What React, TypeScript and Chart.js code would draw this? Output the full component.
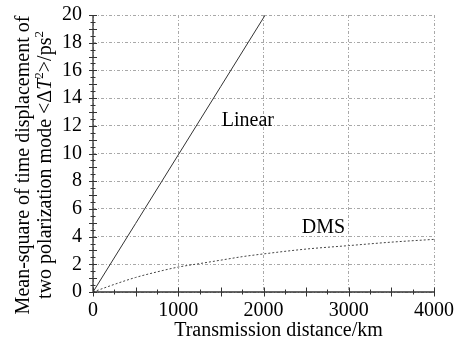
import React, { useEffect, useRef } from "react";
import { Chart, registerables } from "chart.js";

Chart.register(...registerables);

const linearKm = [0, 500, 1000, 1500, 2000, 2020];
const linearVal = [0, 4.95, 9.9, 14.85, 19.8, 20];
const dmsKm = [0, 250, 500, 750, 1000, 1250, 1500, 1750, 2000, 2500, 3000, 3500, 4000];
const dmsVal = [0, 0.55, 1.05, 1.45, 1.8, 2.05, 2.3, 2.55, 2.75, 3.1, 3.35, 3.6, 3.8];
const seriesLabels = ["Linear", "DMS"];
const labelPos = [
  { x: 1510, y: 12 },
  { x: 2450, y: 4.24 },
];
const xTitle = "Transmission distance/km";
const yTitle1 = "Mean-square of time displacement of";

const FONT = "'Liberation Serif', 'DejaVu Serif', serif";

const decorPlugin = {
  id: "decor",
  afterDatasetsDraw(chart: any) {
    const ctx = chart.ctx;
    const xs = chart.scales.x;
    const ys = chart.scales.y;
    const x0 = xs.getPixelForValue(0);
    const y0 = ys.getPixelForValue(0);
    ctx.save();
    ctx.strokeStyle = "#333";
    ctx.lineWidth = 1.3;
    ctx.beginPath();
    ctx.moveTo(x0, ys.getPixelForValue(20));
    ctx.lineTo(x0, y0);
    ctx.lineTo(xs.getPixelForValue(4000), y0);
    ctx.stroke();
    ctx.lineWidth = 1;
    for (let v = 0; v <= 20.001; v += 0.5) {
      const py = Math.round(ys.getPixelForValue(v)) + 0.5;
      const L = Math.abs(v - Math.round(v)) < 0.01 ? 4 : 2.5;
      ctx.beginPath();
      ctx.moveTo(x0 - L, py);
      ctx.lineTo(x0 + L, py);
      ctx.stroke();
    }
    for (let v = 0; v <= 4000; v += 250) {
      const px = Math.round(xs.getPixelForValue(v)) + 0.5;
      const L = v % 500 === 0 ? 4.5 : 2.5;
      ctx.beginPath();
      ctx.moveTo(px, y0 - L);
      ctx.lineTo(px, y0 + L);
      ctx.stroke();
    }
    ctx.fillStyle = "#000";
    ctx.font = `20px ${FONT}`;
    ctx.textAlign = "left";
    ctx.textBaseline = "alphabetic";
    seriesLabels.forEach((s, i) => {
      ctx.fillText(s, xs.getPixelForValue(labelPos[i].x), ys.getPixelForValue(labelPos[i].y));
    });
    ctx.textAlign = "center";
    ctx.fillText(xTitle, 278.5, 336);
    ctx.translate(0, 165);
    ctx.rotate(-Math.PI / 2);
    ctx.textBaseline = "alphabetic";
    ctx.textAlign = "center";
    ctx.fillText(yTitle1, 0, 29);
    const parts = [
      { t: "two polarization mode <\u0394", f: `20px ${FONT}`, dy: 0 },
      { t: "T", f: `italic 20px ${FONT}`, dy: 0 },
      { t: "2", f: `13px ${FONT}`, dy: -8 },
      { t: ">/ps", f: `20px ${FONT}`, dy: 0 },
      { t: "2", f: `13px ${FONT}`, dy: -8 },
    ];
    let total = 0;
    const widths = parts.map((p) => {
      ctx.font = p.f;
      const w = ctx.measureText(p.t).width;
      total += w;
      return w;
    });
    ctx.textAlign = "left";
    let cx = -total / 2;
    parts.forEach((p, i) => {
      ctx.font = p.f;
      ctx.fillText(p.t, cx, 51 + p.dy);
      cx += widths[i];
    });
    ctx.restore();
  },
};

export default function App() {
  const ref = useRef<HTMLCanvasElement | null>(null);
  useEffect(() => {
    if (!ref.current) return;
    const chart = new Chart(ref.current, {
      type: "scatter",
      data: {
        datasets: [
          {
            label: seriesLabels[0],
            data: linearKm.map((x, i) => ({ x, y: linearVal[i] })),
            showLine: true,
            borderColor: "#333",
            borderWidth: 1,
            pointRadius: 0,
          },
          {
            label: seriesLabels[1],
            data: dmsKm.map((x, i) => ({ x, y: dmsVal[i] })),
            showLine: true,
            borderColor: "#444",
            borderWidth: 1,
            borderDash: [2, 2],
            pointRadius: 0,
            cubicInterpolationMode: "monotone",
          },
        ],
      },
      options: {
        responsive: false,
        animation: false,
        layout: { padding: { top: 15, right: 20, left: 0, bottom: 0 } },
        plugins: { legend: { display: false }, tooltip: { enabled: false } },
        scales: {
          x: {
            type: "linear",
            min: 0,
            max: 4000,
            afterFit: (s: any) => {
              s.height = 46;
              s.paddingLeft = 0;
              s.paddingRight = 0;
            },
            ticks: {
              stepSize: 500,
              maxRotation: 0,
              padding: 7,
              color: "#000",
              font: { family: FONT, size: 20 },
              callback: (v: any) => (Number(v) % 1000 === 0 ? String(v) : ""),
            },
            grid: {
              color: "#a8a8a8",
              lineWidth: 1,
              drawTicks: false,
            },
            border: { display: false, dash: [3, 2, 1, 2] },
          },
          y: {
            type: "linear",
            min: 0,
            max: 20,
            afterFit: (s: any) => {
              s.width = 93;
              s.paddingTop = 0;
              s.paddingBottom = 0;
            },
            ticks: {
              stepSize: 1,
              padding: 11,
              color: "#000",
              font: { family: FONT, size: 20 },
              callback: (v: any) => (Number(v) % 2 === 0 ? String(v) : ""),
            },
            grid: {
              color: "#a8a8a8",
              lineWidth: 1,
              drawTicks: false,
            },
            border: { display: false, dash: [3, 2, 1, 2] },
          },
        },
      },
      plugins: [decorPlugin],
    });
    return () => chart.destroy();
  }, []);
  return (
    <div style={{ position: "fixed", left: 0, top: 0, width: 454, height: 338, background: "#fff" }}>
      <canvas ref={ref} width={454} height={338} />
    </div>
  );
}
